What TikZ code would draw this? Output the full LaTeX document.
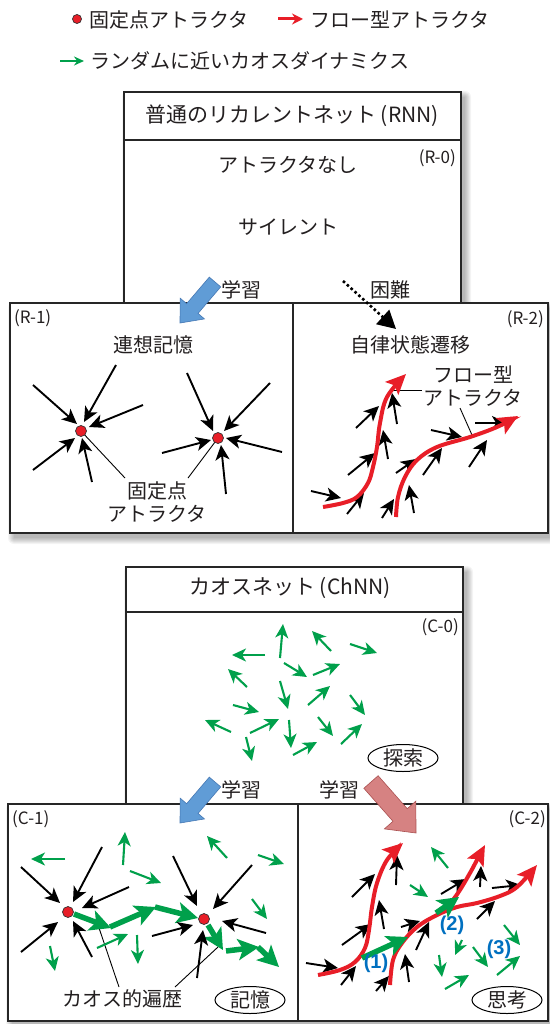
\documentclass[tikz,border=0pt]{standalone}
\usepackage{fontspec}
\setmainfont{Noto Sans CJK JP}
\newfontfamily\labfont{Liberation Sans}
\usetikzlibrary{arrows.meta,calc}
\definecolor{cgreen}{RGB}{0,160,75}
\definecolor{cred}{RGB}{232,30,40}
\definecolor{cblue}{RGB}{0,112,192}
\definecolor{ctext}{RGB}{35,31,32}
\definecolor{bluefill}{RGB}{96,156,214}
\definecolor{blueedge}{RGB}{70,120,180}
\definecolor{pinkfill}{RGB}{214,130,130}
\definecolor{pinkedge}{RGB}{170,80,80}
\newcommand\softshadow[4]{%
  \foreach \k in {0,...,6}{\fill[black,opacity=0.045,rounded corners=\k pt] ({#1+4-\k},{#2+5-\k}) rectangle ({#3+4+\k},{#4+5+\k});}}
\newcommand\fatarrow[6]{%
  \coordinate (FA) at #1; \coordinate (FB) at #2;
  \coordinate (FC) at ($(FB)!#5pt!(FA)$);
  \path[#6] ($(FA)!#3pt!90:(FB)$) -- ($(FC)!#3pt!-90:(FA)$) -- ($(FC)!#4pt!-90:(FA)$) -- (FB) -- ($(FC)!#4pt!90:(FA)$) -- ($(FC)!#3pt!90:(FA)$) -- ($(FA)!#3pt!-90:(FB)$) -- cycle;}
\begin{document}
\begin{tikzpicture}[x=1pt,y=-1pt,
  every node/.style={font=\fontsize{20}{24}\selectfont, inner sep=0pt, text=ctext},
  small/.style={font=\fontsize{17}{20}\selectfont},
  title/.style={font=\fontsize{21}{25}\selectfont},
  blk/.style={draw=black, line width=1.9pt, -{Stealth[length=15pt,width=14pt,inset=4pt]}},
  grn/.style={draw=cgreen, line width=2.1pt, -{Stealth[length=14pt,width=13pt,inset=4pt]}},
  grnthick/.style={draw=cgreen, line width=5.5pt, -{Stealth[length=21pt,width=21pt,inset=5pt]}},
  redc/.style={draw=cred, line width=4pt, -{Stealth[length=20pt,width=18pt,inset=4pt]}},
  lead/.style={draw=black, line width=0.9pt},
  box/.style={draw=black!85, line width=1.5pt, fill=white},
  dotarr/.style={draw=black, line width=2.6pt, dash pattern=on 2.6pt off 2.6pt, -{Triangle[length=18pt,width=19pt]}},
  fp/.style={fill=cred, draw=black!80, line width=0.7pt},
  num/.style={font=\labfont\bfseries\fontsize{20}{24}\selectfont, text=cblue},
  bluearr/.style={fill=bluefill, draw=blueedge, line width=0.6pt},
  pinkarr/.style={fill=pinkfill, draw=pinkedge, line width=0.6pt}
]
\useasboundingbox (0,0) rectangle (549,1024);
\fill[white] (0,0) rectangle (549,1024);

% ---------------- legend ----------------
\draw[fp] (77,19) circle (4.5);
\node[anchor=west] (lg1) at (89,20) {固定点アトラクタ};
\draw[draw=cred, line width=3pt, -{Stealth[length=11pt,width=11pt]}] (278,19) -- (303,19);
\node[anchor=west] (lg2) at (310,20) {フロー型アトラクタ};
\draw[draw=cgreen, line width=2pt, -{Stealth[length=10pt,width=9pt]}] (60,61) -- (84,61);
\node[anchor=west] (lg3) at (90,61) {ランダムに近いカオスダイナミクス};

% ---------------- RNN box ----------------
\softshadow{124}{92}{461}{310}
\draw[box] (124,92) rectangle (461,310);
\draw[line width=2pt, black!85] (124,140) -- (461,140);
\node[title] (rnn) at (292,116) {普通のリカレントネット (RNN)};
\node[small,anchor=east] (r0) at (456,158) {(R-0)};
\node (r0a) at (288,165) {アトラクタなし};
\node (r0b) at (288,227) {サイレント};
\node (rl) at (241,290) {学習};
\node (rd) at (390,290) {困難};

% ---------------- R-1 / R-2 ----------------
\softshadow{10}{303}{548}{533}
\draw[box] (10,303) rectangle (548,533);
\draw[line width=1.5pt, black!85] (293,303) -- (293,533);

\fatarrow{(215,282)}{(180,323)}{7.5}{16}{19}{bluearr}
\draw[dotarr] (343,281) -- (396,329);

\node[small,anchor=west] (r1) at (14,318) {(R-1)};
\node (r1a) at (153,345) {連想記憶};
\draw[lead] (81,431) -- (125,478);
\draw[lead] (218,438) -- (188,478);
\draw[blk] (33,385) -- (77,424);
\draw[blk] (116,365) -- (84,422);
\draw[blk] (143,405) -- (89,427);
\draw[blk] (33,470) -- (75,438);
\draw[blk] (92,482) -- (82,438);
\draw[blk] (187,373) -- (213,431);
\draw[blk] (270,383) -- (224,431);
\draw[blk] (162,453) -- (211,440);
\draw[blk] (282,452) -- (226,438);
\draw[blk] (226,494) -- (221,445);
\draw[fp] (81,431) circle (5.5);
\draw[fp] (218,438) circle (5.5);
\node (r1b) at (157,491) {固定点};
\node (r1c) at (157,514) {アトラクタ};

\node[small,anchor=east] (r2) at (544,319) {(R-2)};
\node (r2a) at (410,345) {自律状態遷移};
\node (r2b) at (473,375) {フロー型};
\node (r2c) at (473,398) {アトラクタ};
\draw[lead] (393,390) -- (422,390);
\draw[lead] (460,408) -- (472,435);
\draw[blk] (311,491) -- (341,498);
\draw[blk] (347,514) -- (364,493);
\draw[blk] (348,475) -- (375,453);
\draw[blk] (388,459) -- (383,430);
\draw[blk] (356,428) -- (379,406);
\draw[blk] (397,424) -- (392,393);
\draw[blk] (382,518) -- (394,499);
\draw[blk] (414,513) -- (409,485);
\draw[blk] (396,473) -- (416,459);
\draw[blk] (423,475) -- (442,448);
\draw[blk] (431,430) -- (462,437);
\draw[blk] (469,467) -- (487,440);
\draw[blk] (475,423) -- (507,423);
\draw[redc] plot[smooth, tension=0.6] coordinates {(323,507) (343,503) (357,497) (368,483) (373,467) (377,447) (380,423) (387,397) (406,374)};
\draw[redc] plot[smooth, tension=0.6] coordinates {(396,517) (398,497) (405,477) (417,460) (437,447) (470,437) (497,427) (518,416)};

% ---------------- ChNN box ----------------
\softshadow{126}{567}{463}{812}
\draw[box] (126,567) rectangle (463,812);
\draw[line width=2pt, black!85] (126,612) -- (463,612);
\node[title] (chnn) at (290,588) {カオスネット (ChNN)};
\node[small,anchor=east] (c0) at (459,627) {(C-0)};
\draw[grn] (265,655) -- (232,655);
\draw[grn] (280,658) -- (283,624);
\draw[grn] (331,651) -- (312,631);
\draw[grn] (350,644) -- (377,653);
\draw[grn] (284,663) -- (307,677);
\draw[grn] (313,675) -- (340,664);
\draw[grn] (247,687) -- (228,669);
\draw[grn] (280,681) -- (288,709);
\draw[grn] (308,705) -- (330,686);
\draw[grn] (350,695) -- (365,715);
\draw[grn] (233,705) -- (259,712);
\draw[grn] (231,732) -- (205,720);
\draw[grn] (250,733) -- (279,719);
\draw[grn] (289,720) -- (291,748);
\draw[grn] (318,717) -- (333,736);
\draw[grn] (341,744) -- (362,724);
\draw[grn] (246,737) -- (252,761);
\draw[grn] (293,755) -- (317,742);
\node (c0a) at (403,758) {探索};
\draw[line width=1pt] (c0a.center) ellipse [x radius=35, y radius=13.5];
\node (cl1) at (241,790) {学習};
\node (cl2) at (339,790) {学習};

% ---------------- C-1 / C-2 ----------------
\softshadow{8}{804}{548}{1021}
\draw[box] (8,804) rectangle (548,1021);
\draw[line width=1.5pt, black!85] (298,804) -- (298,1021);

\fatarrow{(215,782)}{(180,823)}{7.5}{16}{19}{bluearr}
\fatarrow{(371,782)}{(416,833)}{9.5}{21}{24}{pinkarr}

\node[small,anchor=west] (c1) at (12,819) {(C-1)};
\draw[lead] (97,922) -- (119,987);
\draw[lead] (218,947) -- (175,987);
\draw[grn] (65,859) -- (31,859);
\draw[grn] (123,865) -- (125,832);
\draw[grn] (130,871) -- (161,883);
\draw[grn] (227,858) -- (207,836);
\draw[grn] (258,855) -- (284,864);
\draw[grn] (252,899) -- (267,919);
\draw[grn] (97,948) -- (128,934);
\draw[grn] (50,946) -- (55,971);
\draw[grn] (137,935) -- (138,964);
\draw[grnthick] (74,914) -- (111,928);
\draw[grnthick] (110,927) -- (156,907);
\draw[grnthick] (155,907) -- (198,918);
\draw[grnthick] (208,925) -- (223,950);
\draw[grnthick] (226,951) -- (259,947);
\draw[grnthick] (258,947) -- (279,967);
\draw[blk] (21,867) -- (60,903);
\draw[blk] (102,847) -- (73,902);
\draw[blk] (129,887) -- (82,908);
\draw[blk] (21,952) -- (58,922);
\draw[blk] (92,957) -- (73,921);
\draw[blk] (173,856) -- (197,906);
\draw[blk] (252,865) -- (213,909);
\draw[blk] (152,936) -- (193,925);
\draw[blk] (266,933) -- (222,921);
\draw[blk] (197,978) -- (203,930);
\draw[fp] (68,912) circle (5.5);
\draw[fp] (204,919) circle (5.5);
\node (c1a) at (122,999) {カオス的遍歴};
\node (c1b) at (250,1000) {記憶};
\draw[line width=1pt] (c1b.center) ellipse [x radius=35, y radius=13.5];

\node[small,anchor=east] (c2) at (546,819) {(C-2)};
\draw[grn] (448,868) -- (431,847);
\draw[grn] (410,885) -- (428,897);
\draw[grn] (462,940) -- (455,955);
\draw[grn] (439,955) -- (442,977);
\draw[grn] (473,947) -- (488,967);
\draw[grn] (504,925) -- (520,945);
\draw[grn] (497,975) -- (520,956);
\draw[grn] (445,989) -- (469,975);
\draw[blk] (306,963) -- (338,968);
\draw[blk] (341,985) -- (356,966);
\draw[blk] (342,945) -- (371,924);
\draw[blk] (384,929) -- (379,900);
\draw[blk] (352,897) -- (375,874);
\draw[blk] (396,885) -- (397,855);
\draw[blk] (376,991) -- (389,976);
\draw[blk] (409,982) -- (405,954);
\draw[blk] (401,927) -- (420,921);
\draw[blk] (416,950) -- (429,922);
\draw[blk] (441,894) -- (466,879);
\draw[blk] (480,887) -- (481,866);
\draw[blk] (492,888) -- (521,885);
\draw[blk] (477,919) -- (495,901);
\draw[redc] plot[smooth, tension=0.6] coordinates {(318,975) (340,970) (355,962) (365,948) (369,930) (372,907) (377,883) (387,860) (403,843)};
\draw[redc] plot[smooth, tension=0.6] coordinates {(390,985) (393,960) (402,943) (417,927) (437,915) (457,907) (477,903) (500,896) (517,887) (537,865)};
\draw[redc] plot[smooth, tension=0.6] coordinates {(445,910) (458,893) (470,873) (478,858) (485,845)};
\draw[grnthick] (362,958) -- (408,937);
\draw[grnthick] (436,913) -- (459,897);
\node[num] (n1) at (376,963) {(1)};
\node[num] (n2) at (452,925) {(2)};
\node[num] (n3) at (499,949) {(3)};
\node (c2a) at (507,1000) {思考};
\draw[line width=1pt] (c2a.center) ellipse [x radius=35, y radius=13.5];
\end{tikzpicture}
\end{document}
